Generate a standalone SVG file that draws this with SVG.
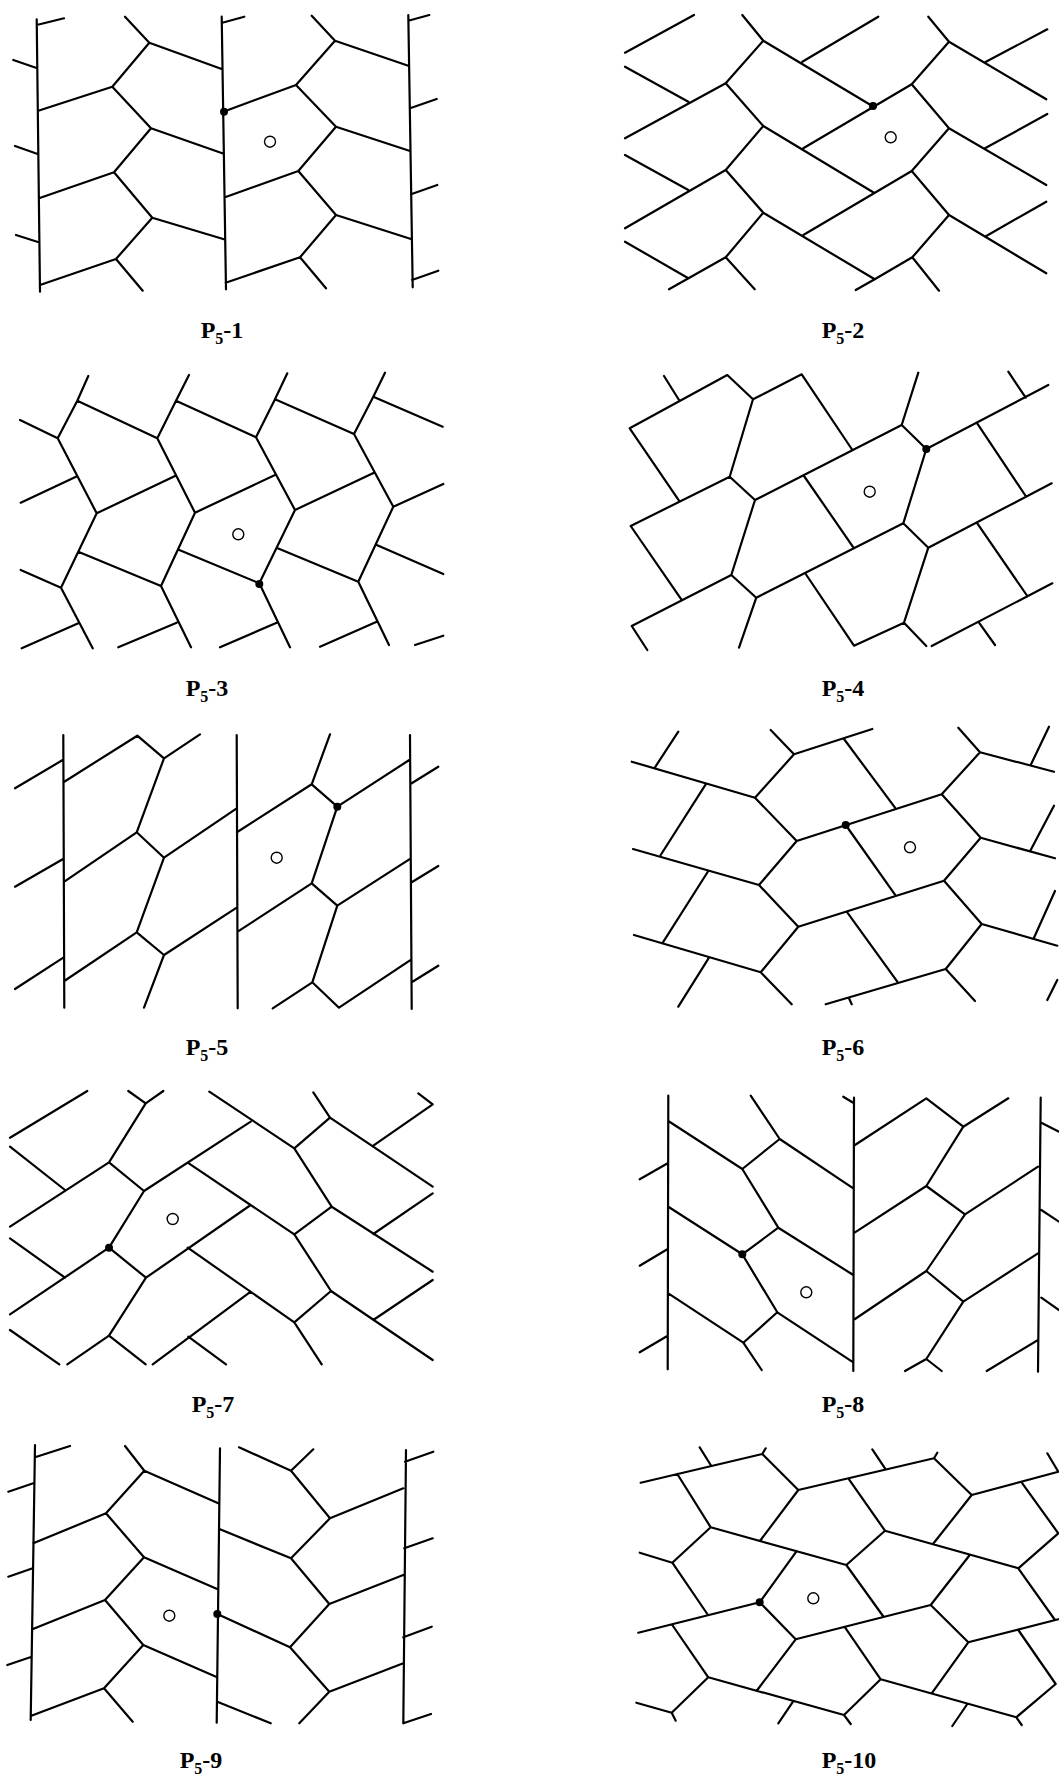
<svg xmlns="http://www.w3.org/2000/svg" width="1059" height="1780" viewBox="0 0 1059 1780">
<style>
.t{fill:none;stroke:#000;stroke-width:2.2;stroke-linecap:round;stroke-linejoin:round}
.o{fill:#fff;stroke:#000;stroke-width:1.4}
.d{fill:#000}
.l{font-family:"Liberation Serif","Times New Roman",serif;font-weight:bold;font-size:24px;fill:#000}
.s{font-size:16px}
</style>
<rect width="1059" height="1780" fill="#fff"/>
<g id="connectors">
<g id="panel-p5-1">
<path class="t" d="M36.7,19.3L40,291.7M221.7,16.7L226,289.3M408.3,15L412.7,287.3
M36.7,25L64,18.3M13.3,60L37.3,68.3M15,146L37.7,154M16,235L38.7,242.3
M222.3,22.7L244.3,16.7M408.3,20.7L429.3,15M410,108.3L436.7,99M411,194.3L437.3,185M412,280L438.3,270.7
M125,16.7L149.3,42.7L221.7,69M149.3,42.7L112.3,86.7L38.3,110.7M112.3,86.7L151,128.3L222.3,153.3M151,128.3L114,172.3L39,198.3M114,172.3L152.3,217.7L224,239.3M152.3,217.7L116,259L40,285M116,259L142.7,290.7
M311.7,15.7L335,40.7L408.3,65.7M335,40.7L296,85L223.3,111.7M296,85L336,126.7L410,151M336,126.7L298.3,171L225,197.3M298.3,171L336,215L411,239M336,215L300,257.3L225.7,282.7M300,257.3L326,288.3"/>
<circle class="d" cx="224" cy="111.7" r="4"/>
<circle class="o" cx="270" cy="141.7" r="5.5"/>
</g>
<g id="panel-p5-2">
<path class="t" d="M625,52.7L694,15M625,66.7L688.3,101.7M742.3,15L763.3,40.7L725.7,83.3L625,138.3M763.3,40.7L872.3,106M802.3,61.7L878.3,16.7
M725.7,83.3L763.3,126L725.7,170M763.3,126L874,192.7M803.3,148.3L911.7,84.3L949,41.7M928.3,16.7L949,41.7L1046.3,99.3M985,62.3L1047.3,29.3
M911.7,84.3L949,128.3L1046.3,185M985,148.3L1047.3,114M949,128.3L911.7,171L803.3,235
M625,155L688.3,190M725.7,170L625,228.3M725.7,170L763.3,212.7L725.7,257.3L669,289.3M725.7,257.3L754.7,289.3M625,241.7L688.3,278.3
M763.3,212.7L874.7,279.3L855.7,290M874.7,279.3L912.3,257.3L949,215M912.3,257.3L939,290.7M911.7,171L949,215L1046.3,273.3M985,236.7L1046.3,201.7"/>
<circle class="d" cx="873" cy="106" r="4"/>
<circle class="o" cx="890.7" cy="137.3" r="5.5"/>
</g>
<g id="panel-p5-3">
<path class="t" d="M88.3,376L77.3,400.7L57.7,438.3M20,420L57.7,438.3M77.3,400.7L157.3,438.3M189,375L176,400.7L157.3,438.3M176,400.7L256,437.3M287.3,373.3L275,399.3L256,437.3M275,399.3L354,434M385,372.7L373.3,396.7L354,434M373.3,396.7L442.7,426.7
M57.7,438.3L96.7,513.3M20.7,502.7L76,476.7M96.7,513.3L175,476M157.3,438.3L195,512.7L275,475M256,437.3L295,510L374,472.7M354,434L393.3,506.7L443.3,484
M96.7,513.3L61,587.7M20.7,570L61,587.7M78.3,551.7L161,586M195,512.7L161,586M179.3,550L259.3,583.3M295,510L259.3,583.3M277.7,548.3L358.3,581.7M393.3,506.7L358.3,581.7M376.7,545L443.3,574
M61,587.7L92.7,648.3M21.7,648.3L78.3,623.3M161,586L191,647.3M118.3,647.3L176.7,622.7M259.3,583.3L290,647.3M220,647.3L276.7,622.7M358.3,581.7L389,645M320,646.7L376.7,621.7M415,645L443.3,635.7"/>
<circle class="d" cx="259.3" cy="584" r="4"/>
<circle class="o" cx="238.3" cy="534.3" r="5.5"/>
</g>
<g id="panel-p5-4">
<path class="t" d="M664,376L679,400M629.7,428.3L727.3,375L753,399.3L801.7,374.3L851.7,449M753,399.3L729.7,476.7M629.7,428.3L679,500.7M630.7,526L729.7,476.7L755,500L901.7,425L918.3,372.7M901.7,425L926.3,449L1048.3,385M1008.3,371.7L1025.7,397.7M976.7,422.7L1025.7,496
M804,476L854,548.3M926.3,449L903.3,523.3M755,500L731.3,575M630.7,526L681.3,599.3M631.7,626L731.3,575L756.3,597.7L903.3,523.3L928.3,547.7L1051.7,483.3M977.3,523.3L1027.3,596
M756.3,597.7L739,647.7M631.7,626L647.3,650M805.7,574L854,645.7L904,622.7L928.3,547.7M904,622.7L926.3,646M931.7,646L1052.3,583.3M979,622.7L995,645"/>
<circle class="d" cx="926.3" cy="449" r="4"/>
<circle class="o" cx="869.7" cy="491.7" r="5.5"/>
</g>
<g id="panel-p5-5">
<path class="t" d="M63.3,735L64.3,1007.7M236.7,735L237.7,1008.3M410,735L411.7,1009
M15,788.3L62.7,760M64.3,781.7L137.3,735.7L164,758.3L200,734.3M164,758.3L136.7,832.3M15,886.7L62.7,859.3M64.3,881.7L136.7,832.3L164,857.7L236.7,808.3M164,857.7L136.7,932.3M15,989L63.3,957.7M64.3,981L136.7,932.3L164,955L236.7,907.7M164,955L144,1007.7
M330,734.3L311.7,784.3M237.7,831.7L311.7,784.3L337.3,806.7L409.3,760M411.7,783.3L438.3,766.7M337.3,806.7L311.7,883.3M237.7,931.7L311.7,883.3L337.3,905.7L409.3,859.3M411.7,882.3L438.3,866M337.3,905.7L312.3,982.3M272.7,1008.3L312.3,982.3L339,1007.7L410,960.3M411.7,982.3L438.3,965.7"/>
<circle class="d" cx="337.3" cy="806.7" r="4"/>
<circle class="o" cx="276.7" cy="857.7" r="5.5"/>
</g>
<g id="panel-p5-6">
<path class="t" d="M678.3,731.7L655,767.3M631.7,761.7L755,797.7M770.7,730L794,754.3L872.3,729M794,754.3L755,797.7M705.7,784.3L660.7,855M755,797.7L796.7,841M844,739L895,807.7M796.7,841L941.7,794.3L980,752.3M958.3,727.7L980,752.3L1054,771.7M1049,726.7L1030.7,765
M845.7,825L895.7,895.7M941.7,794.3L980.7,837.7L1055,858.3M1054,805.7L1030.7,850M980.7,837.7L944,880.7M633,849L759,885M796.7,841L759,885M708.3,871L662.3,943.3M759,885L798.3,926.7L944,880.7L981.7,924L1057.3,945.7M1055,891L1034,937.7
M634,935L760.7,972.3M798.3,926.7L760.7,972.3M709,957.7L678.3,1006.7M760.7,972.3L791.7,1004.3M846.7,911.7L897.3,981.7M825.7,1004.3L945.7,969M981.7,924L945.7,969L975,1001M1057.3,980L1047.3,1000M849,998.3L851.7,1004.3"/>
<circle class="d" cx="845.7" cy="825" r="4"/>
<circle class="o" cx="910" cy="847.3" r="5.5"/>
</g>
<g id="panel-p5-7">
<path class="t" d="M10,1137.7L87.3,1091M128.3,1091L145.7,1103.3L163.3,1091M145.7,1103.3L109,1162.3M10,1146.7L65,1190M10,1226.7L109,1162.3L144,1191L250.7,1121.7M209.3,1091.7L294.3,1148.3L330,1117.7M313.3,1092.3L330,1117.7L432.7,1186.7M373.3,1145.7L432.7,1104.3M418.3,1093.3L432.7,1104.3
M187.7,1162.7L294.3,1234.3M294.3,1148.3L331.7,1206.7L294.3,1234.3M331.7,1206.7L432.7,1271.7M373.3,1234L432.7,1193.3
M144,1191L109,1247.7M10,1238.3L65,1277.7M10,1314.3L109,1247.7L146,1277.7L250.7,1205M187.7,1247.7L294.3,1322.3M294.3,1234.3L331,1291L294.3,1322.3M331,1291L432.7,1360M373.3,1320L432.7,1280
M146,1277.7L109,1335.7M10,1330L59.3,1364.3M67.3,1364.3L109,1335.7L145.7,1364.3M152.7,1364.3L250.7,1291.7M188.3,1336.7L226,1364.3M294.3,1322.3L321.7,1364.3"/>
<circle class="d" cx="109" cy="1247.7" r="4"/>
<circle class="o" cx="172.7" cy="1219" r="5.5"/>
</g>
<g id="panel-p5-8">
<path class="t" d="M668.3,1095.7L667.7,1369.3M854,1097.7L853.3,1371M843.3,1096.7L854,1103.3M1040.7,1097.7L1038,1371.7
M639.7,1179.3L667.7,1163.3M639.7,1265.7L667.7,1249M639.7,1352.3L667.7,1335.7
M668.3,1121L742.3,1169L779.7,1139L853.3,1188.3M750.7,1095.7L779.7,1139M742.3,1169L778.3,1227.7M668.3,1206.7L742.3,1254.3L778.3,1227.7L853.3,1275M742.3,1254.3L777.3,1312.3M668.3,1293.3L743.3,1342.7L777.3,1312.3L853.3,1362.3M743.3,1342.7L761.7,1370
M855,1145L926.3,1098.3L963.3,1126.7L1008.3,1098.3M963.3,1126.7L926.3,1186M855,1232.3L926.3,1186L965,1214.3L1038,1166.7M965,1214.3L926.3,1271M855,1319L926.3,1271L963.3,1301.7L1038,1253.3M963.3,1301.7L926.3,1359M905,1371L926.3,1359L941.7,1371M986.7,1371L1038,1340
M1041.3,1122.7L1059,1131.7M1041.3,1210L1059,1221.7M1041.3,1297.7L1059,1310"/>
<circle class="d" cx="742.3" cy="1254.3" r="4"/>
<circle class="o" cx="806.3" cy="1292.3" r="5.5"/>
</g>
<g id="panel-p5-9">
<path class="t" d="M35,1445L30.7,1720M220,1448.3L216.7,1722.7M406,1450L403.3,1723.3
M35,1457.3L70,1446M8.3,1491.7L33.3,1483.3M8.3,1576.7L32.7,1568.3M7.3,1665L31.7,1656.7M405,1461.7L433.3,1451.7M404.3,1548.3L432.7,1538.3M403.3,1637.3L431.7,1626.7M403.3,1723.3L431,1714
M125,1446L144.3,1470.7L218.3,1503.3M144.3,1470.7L106,1513.3L33.3,1543.3M106,1513.3L144,1557.3L217.7,1589.3M144,1557.3L105,1600L32.3,1629.3M105,1600L143.3,1645L216,1676.7M143.3,1645L104,1688.3L30.7,1716M104,1688.3L132.7,1721.7
M239,1447.3L291,1470.7L313.3,1449.3M291,1470.7L330,1518.3L403.3,1488.3M220,1529.3L291,1558.3L330,1518.3M291,1558.3L329.3,1604L403.3,1575M217.3,1614L290,1647.3L329.3,1604M290,1647.3L329.3,1691.7L403.3,1663.3M329.3,1691.7L299.3,1723.3M217.3,1701.7L270.7,1723.3"/>
<circle class="d" cx="217.3" cy="1614" r="4"/>
<circle class="o" cx="169.3" cy="1615.7" r="5.5"/>
</g>
<g id="panel-p5-10">
<path class="t" d="M640.7,1482.7L762.3,1454L765.7,1448.3M699.7,1447.3L710.7,1465M762.3,1454L798.3,1490L934,1458.3L937.3,1452.7M677.3,1474L710.7,1527.3L672.3,1562.7M639.7,1552.7L672.3,1562.7M710.7,1527.3L846.3,1565M798.3,1490L760.7,1540M872.3,1449.3L885,1468.3M934,1458.3L971.7,1495L1058.3,1471.7M1047.3,1453.3L1058.3,1471.7
M848.3,1478.3L885,1530.7L846.3,1565M885,1530.7L1018.3,1568.3M971.7,1495L933,1544M1022.3,1483.3L1058.3,1533.3L1018.3,1568.3
M672.3,1562.7L707.3,1614M638.3,1632.7L759.7,1602.3M796.3,1551.7L759.7,1602.3L795.7,1639.3L930.7,1605M846.3,1565L883,1616M969,1556L930.7,1605M1018.3,1568.3L1055,1620M930.7,1605L968.3,1642.3L1058.3,1619.3
M672.3,1625L708.3,1677.3L671.7,1712.7L675.7,1720.7M636.3,1702.7L671.7,1712.7M708.3,1677.3L844,1715L850.7,1724M795.7,1639.3L757.3,1690M845,1627.3L880.7,1679.3L844,1715M793,1701.7L778.3,1723.3M880.7,1679.3L1016.3,1717.3L1021.7,1725M968.3,1642.3L931.7,1693.3M1018.3,1630L1055.7,1684L1016.3,1717.3M967.3,1704L952.3,1726"/>
<circle class="d" cx="759.7" cy="1602.3" r="4"/>
<circle class="o" cx="813.3" cy="1598.3" r="5.5"/>
</g>
</g>
<g id="labels">
<text class="l" x="222" y="338" text-anchor="middle">P<tspan class="s" dy="6">5</tspan><tspan dy="-6">-1</tspan></text>
<text class="l" x="843" y="338" text-anchor="middle">P<tspan class="s" dy="6">5</tspan><tspan dy="-6">-2</tspan></text>
<text class="l" x="207" y="696" text-anchor="middle">P<tspan class="s" dy="6">5</tspan><tspan dy="-6">-3</tspan></text>
<text class="l" x="843" y="696" text-anchor="middle">P<tspan class="s" dy="6">5</tspan><tspan dy="-6">-4</tspan></text>
<text class="l" x="207" y="1055" text-anchor="middle">P<tspan class="s" dy="6">5</tspan><tspan dy="-6">-5</tspan></text>
<text class="l" x="843" y="1055" text-anchor="middle">P<tspan class="s" dy="6">5</tspan><tspan dy="-6">-6</tspan></text>
<text class="l" x="213" y="1412" text-anchor="middle">P<tspan class="s" dy="6">5</tspan><tspan dy="-6">-7</tspan></text>
<text class="l" x="843" y="1412" text-anchor="middle">P<tspan class="s" dy="6">5</tspan><tspan dy="-6">-8</tspan></text>
<text class="l" x="201" y="1768" text-anchor="middle">P<tspan class="s" dy="6">5</tspan><tspan dy="-6">-9</tspan></text>
<text class="l" x="849" y="1768" text-anchor="middle">P<tspan class="s" dy="6">5</tspan><tspan dy="-6">-10</tspan></text>
</g>
</svg>
